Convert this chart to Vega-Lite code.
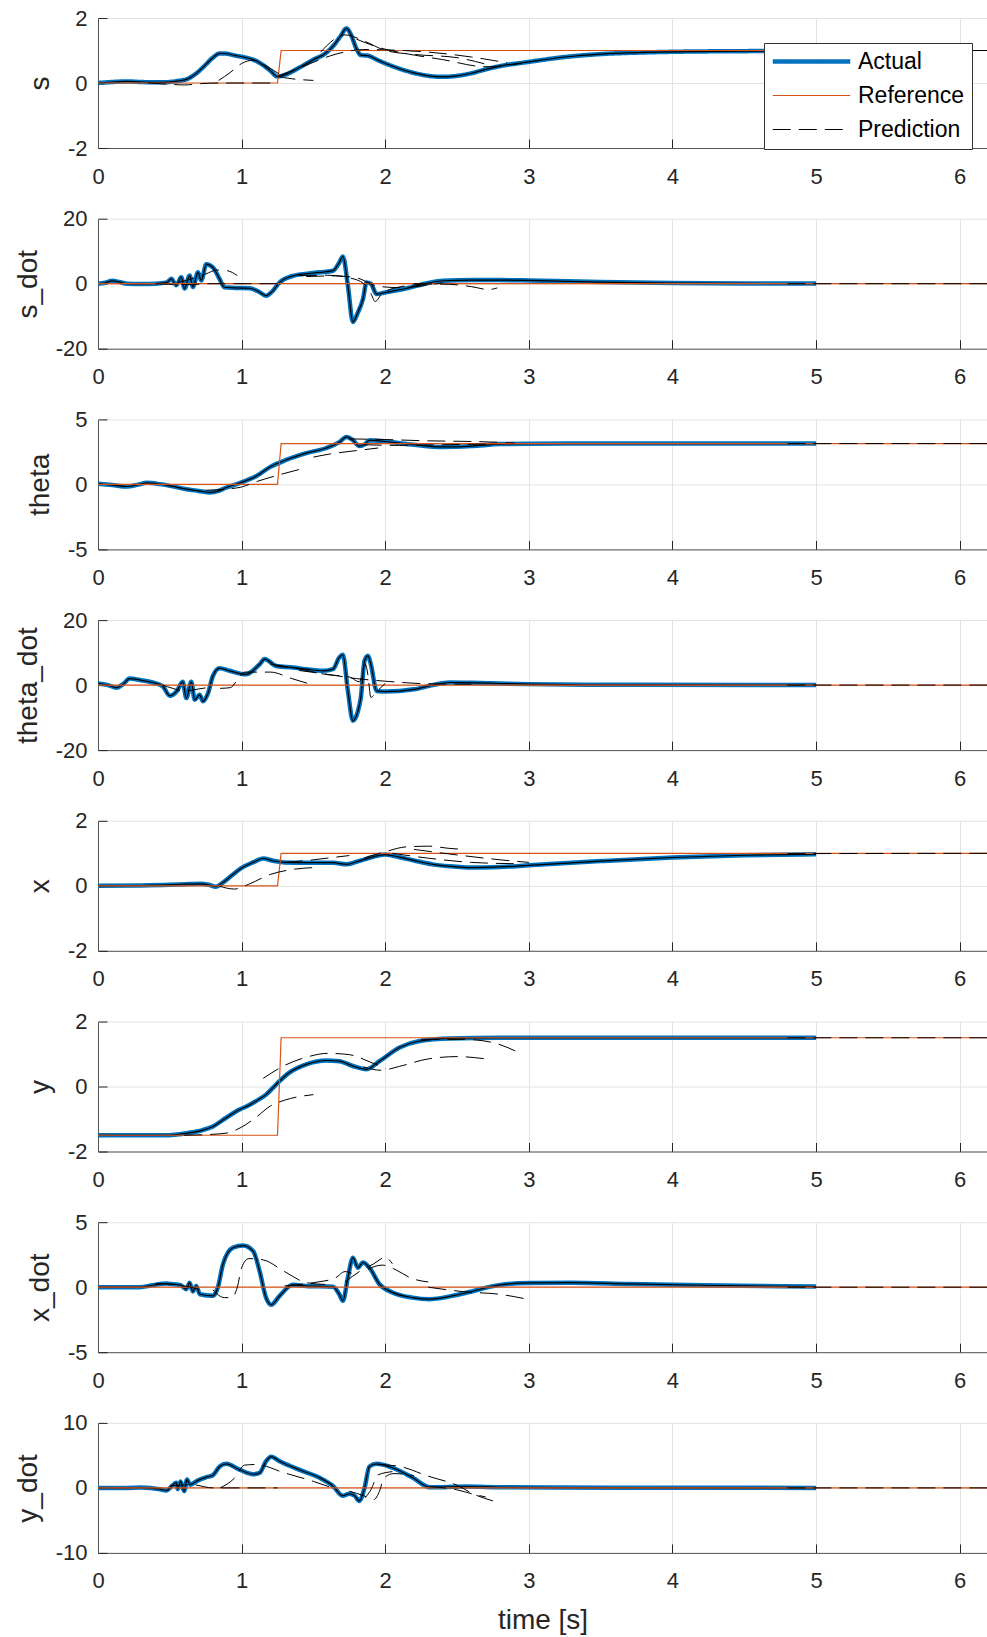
{
"$schema":"https://vega.github.io/schema/vega-lite/v6.json",
"background":"white",
"padding":{"left":14,"top":7,"right":0,"bottom":2},
"bounds":"flush",
"spacing":70.7,
"resolve":{"legend":{"color":"independent","strokeDash":"independent"},"scale":{"color":"independent","strokeDash":"independent"}},
"config":{
 "view":{"stroke":null},
 "font":"Liberation Sans",
 "locale":{"number":{"decimal":".","thousands":",","grouping":[3],"currency":["$",""],"minus":"-"}},
 "axis":{"labelFont":"Liberation Sans","labelFontSize":22,"labelColor":"#262626","titleFont":"Liberation Sans","titleFontSize":28,"titleFontWeight":"normal","titleColor":"#262626","domainColor":"#555555","domainWidth":1,"tickColor":"#262626","tickWidth":1,"tickSize":-9,"gridColor":"#e3e3e3","gridWidth":1,"labelFlush":false,"labelOverlap":false},
 "axisX":{"labelPadding":27,"titlePadding":15},
 "axisY":{"labelPadding":20,"titlePadding":13},
 "legend":{"symbolType":"stroke","symbolSize":6000,"labelFontSize":23,"labelFont":"Liberation Sans","labelColor":"#000000","fillColor":"#ffffff","strokeColor":"#333333","padding":7,"labelOffset":35,"symbolOffset":29,"rowPadding":10,"symbolStrokeWidth":1.2,"labelLimit":300}
},
"data":{"values":[
{"panel":"s","series":"Actual","seg":"a","t":0,"y":0},{"panel":"s","series":"Actual","seg":"a","t":0.1,"y":0.03},{"panel":"s","series":"Actual","seg":"a","t":0.2,"y":0.05},{"panel":"s","series":"Actual","seg":"a","t":0.3,"y":0.03},{"panel":"s","series":"Actual","seg":"a","t":0.45,"y":0.02},{"panel":"s","series":"Actual","seg":"a","t":0.55,"y":0.06},{"panel":"s","series":"Actual","seg":"a","t":0.62,"y":0.12},{"panel":"s","series":"Actual","seg":"a","t":0.68,"y":0.28},{"panel":"s","series":"Actual","seg":"a","t":0.74,"y":0.52},{"panel":"s","series":"Actual","seg":"a","t":0.8,"y":0.78},{"panel":"s","series":"Actual","seg":"a","t":0.85,"y":0.91},{"panel":"s","series":"Actual","seg":"a","t":0.9,"y":0.9},{"panel":"s","series":"Actual","seg":"a","t":0.95,"y":0.85},{"panel":"s","series":"Actual","seg":"a","t":1.02,"y":0.79},{"panel":"s","series":"Actual","seg":"a","t":1.08,"y":0.72},{"panel":"s","series":"Actual","seg":"a","t":1.14,"y":0.58},{"panel":"s","series":"Actual","seg":"a","t":1.2,"y":0.38},{"panel":"s","series":"Actual","seg":"a","t":1.25,"y":0.2},{"panel":"s","series":"Actual","seg":"a","t":1.3,"y":0.25},{"panel":"s","series":"Actual","seg":"a","t":1.4,"y":0.47},{"panel":"s","series":"Actual","seg":"a","t":1.5,"y":0.72},{"panel":"s","series":"Actual","seg":"a","t":1.58,"y":0.9},{"panel":"s","series":"Actual","seg":"a","t":1.64,"y":1.15},{"panel":"s","series":"Actual","seg":"a","t":1.69,"y":1.45},{"panel":"s","series":"Actual","seg":"a","t":1.73,"y":1.68},{"panel":"s","series":"Actual","seg":"a","t":1.76,"y":1.5},{"panel":"s","series":"Actual","seg":"a","t":1.8,"y":1.05},{"panel":"s","series":"Actual","seg":"a","t":1.83,"y":0.86},{"panel":"s","series":"Actual","seg":"a","t":1.88,"y":0.84},{"panel":"s","series":"Actual","seg":"a","t":1.95,"y":0.7},{"panel":"s","series":"Actual","seg":"a","t":2.02,"y":0.57},{"panel":"s","series":"Actual","seg":"a","t":2.1,"y":0.44},{"panel":"s","series":"Actual","seg":"a","t":2.2,"y":0.31},{"panel":"s","series":"Actual","seg":"a","t":2.3,"y":0.22},{"panel":"s","series":"Actual","seg":"a","t":2.4,"y":0.19},{"panel":"s","series":"Actual","seg":"a","t":2.5,"y":0.22},{"panel":"s","series":"Actual","seg":"a","t":2.6,"y":0.3},{"panel":"s","series":"Actual","seg":"a","t":2.7,"y":0.42},{"panel":"s","series":"Actual","seg":"a","t":2.8,"y":0.52},{"panel":"s","series":"Actual","seg":"a","t":3.0,"y":0.65},{"panel":"s","series":"Actual","seg":"a","t":3.25,"y":0.8},{"panel":"s","series":"Actual","seg":"a","t":3.5,"y":0.89},{"panel":"s","series":"Actual","seg":"a","t":3.8,"y":0.94},{"panel":"s","series":"Actual","seg":"a","t":4.0,"y":0.96},{"panel":"s","series":"Actual","seg":"a","t":4.5,"y":0.98},{"panel":"s","series":"Actual","seg":"a","t":5.0,"y":0.99},
{"panel":"s","series":"Reference","seg":"r","t":0,"y":0},{"panel":"s","series":"Reference","seg":"r","t":1.25,"y":0},{"panel":"s","series":"Reference","seg":"r","t":1.275,"y":1},{"panel":"s","series":"Reference","seg":"r","t":6.19,"y":1},
{"panel":"s","series":"Prediction","seg":"p1","t":0.35,"y":0},{"panel":"s","series":"Prediction","seg":"p1","t":0.5,"y":-0.04},{"panel":"s","series":"Prediction","seg":"p1","t":0.6,"y":-0.06},{"panel":"s","series":"Prediction","seg":"p1","t":0.72,"y":-0.02},{"panel":"s","series":"Prediction","seg":"p1","t":0.85,"y":0},{"panel":"s","series":"Prediction","seg":"p1","t":1.25,"y":0},
{"panel":"s","series":"Prediction","seg":"p2","t":0.84,"y":0.08},{"panel":"s","series":"Prediction","seg":"p2","t":0.92,"y":0.32},{"panel":"s","series":"Prediction","seg":"p2","t":1.0,"y":0.6},{"panel":"s","series":"Prediction","seg":"p2","t":1.08,"y":0.7},{"panel":"s","series":"Prediction","seg":"p2","t":1.18,"y":0.5},{"panel":"s","series":"Prediction","seg":"p2","t":1.28,"y":0.22},
{"panel":"s","series":"Prediction","seg":"p3","t":1.25,"y":0.2},{"panel":"s","series":"Prediction","seg":"p3","t":1.35,"y":0.13},{"panel":"s","series":"Prediction","seg":"p3","t":1.5,"y":0.08},
{"panel":"s","series":"Prediction","seg":"p4","t":1.25,"y":0.2},{"panel":"s","series":"Prediction","seg":"p4","t":1.45,"y":0.55},{"panel":"s","series":"Prediction","seg":"p4","t":1.65,"y":0.88},{"panel":"s","series":"Prediction","seg":"p4","t":1.85,"y":1.03},{"panel":"s","series":"Prediction","seg":"p4","t":2.0,"y":1.02},{"panel":"s","series":"Prediction","seg":"p4","t":2.3,"y":0.95},{"panel":"s","series":"Prediction","seg":"p4","t":2.6,"y":0.8},{"panel":"s","series":"Prediction","seg":"p4","t":2.85,"y":0.62},
{"panel":"s","series":"Prediction","seg":"p5","t":1.55,"y":0.95},{"panel":"s","series":"Prediction","seg":"p5","t":1.72,"y":1.48},{"panel":"s","series":"Prediction","seg":"p5","t":1.85,"y":1.3},{"panel":"s","series":"Prediction","seg":"p5","t":2.0,"y":1.0},{"panel":"s","series":"Prediction","seg":"p5","t":2.2,"y":0.88},{"panel":"s","series":"Prediction","seg":"p5","t":2.5,"y":0.78},{"panel":"s","series":"Prediction","seg":"p5","t":2.7,"y":0.58},
{"panel":"s","series":"Prediction","seg":"p6","t":1.8,"y":1.35},{"panel":"s","series":"Prediction","seg":"p6","t":1.95,"y":1.1},{"panel":"s","series":"Prediction","seg":"p6","t":2.15,"y":0.9},{"panel":"s","series":"Prediction","seg":"p6","t":2.4,"y":0.72},{"panel":"s","series":"Prediction","seg":"p6","t":2.7,"y":0.5},{"panel":"s","series":"Prediction","seg":"p6","t":2.95,"y":0.6},
{"panel":"s","series":"Prediction","seg":"tail","t":4.8,"y":0.99},{"panel":"s","series":"Prediction","seg":"tail","t":5.2,"y":1.0},{"panel":"s","series":"Prediction","seg":"tail","t":6.19,"y":1.0},

{"panel":"s_dot","series":"Actual","seg":"a","t":0,"y":0},{"panel":"s_dot","series":"Actual","seg":"a","t":0.05,"y":0.3},{"panel":"s_dot","series":"Actual","seg":"a","t":0.1,"y":0.9},{"panel":"s_dot","series":"Actual","seg":"a","t":0.15,"y":0.5},{"panel":"s_dot","series":"Actual","seg":"a","t":0.2,"y":0},{"panel":"s_dot","series":"Actual","seg":"a","t":0.3,"y":-0.1},{"panel":"s_dot","series":"Actual","seg":"a","t":0.4,"y":0},{"panel":"s_dot","series":"Actual","seg":"a","t":0.48,"y":0.4},{"panel":"s_dot","series":"Actual","seg":"a","t":0.51,"y":1.5},{"panel":"s_dot","series":"Actual","seg":"a","t":0.545,"y":-0.5},{"panel":"s_dot","series":"Actual","seg":"a","t":0.58,"y":2},{"panel":"s_dot","series":"Actual","seg":"a","t":0.603,"y":-1.5},{"panel":"s_dot","series":"Actual","seg":"a","t":0.638,"y":2.5},{"panel":"s_dot","series":"Actual","seg":"a","t":0.661,"y":-1},{"panel":"s_dot","series":"Actual","seg":"a","t":0.696,"y":3.5},{"panel":"s_dot","series":"Actual","seg":"a","t":0.719,"y":1},{"panel":"s_dot","series":"Actual","seg":"a","t":0.754,"y":6},{"panel":"s_dot","series":"Actual","seg":"a","t":0.8,"y":5},{"panel":"s_dot","series":"Actual","seg":"a","t":0.847,"y":1.4},{"panel":"s_dot","series":"Actual","seg":"a","t":0.88,"y":-1.1},{"panel":"s_dot","series":"Actual","seg":"a","t":0.95,"y":-1.3},{"panel":"s_dot","series":"Actual","seg":"a","t":1.056,"y":-1.4},{"panel":"s_dot","series":"Actual","seg":"a","t":1.12,"y":-2.5},{"panel":"s_dot","series":"Actual","seg":"a","t":1.17,"y":-3.7},{"panel":"s_dot","series":"Actual","seg":"a","t":1.21,"y":-2.5},{"panel":"s_dot","series":"Actual","seg":"a","t":1.265,"y":0.4},{"panel":"s_dot","series":"Actual","seg":"a","t":1.357,"y":2.4},{"panel":"s_dot","series":"Actual","seg":"a","t":1.5,"y":3.3},{"panel":"s_dot","series":"Actual","seg":"a","t":1.636,"y":4},{"panel":"s_dot","series":"Actual","seg":"a","t":1.68,"y":6.5},{"panel":"s_dot","series":"Actual","seg":"a","t":1.705,"y":8.4},{"panel":"s_dot","series":"Actual","seg":"a","t":1.74,"y":-0.6},{"panel":"s_dot","series":"Actual","seg":"a","t":1.775,"y":-11.8},{"panel":"s_dot","series":"Actual","seg":"a","t":1.81,"y":-8.8},{"panel":"s_dot","series":"Actual","seg":"a","t":1.845,"y":-4.7},{"panel":"s_dot","series":"Actual","seg":"a","t":1.87,"y":0.4},{"panel":"s_dot","series":"Actual","seg":"a","t":1.9,"y":0},{"panel":"s_dot","series":"Actual","seg":"a","t":1.94,"y":-3.2},{"panel":"s_dot","series":"Actual","seg":"a","t":2.0,"y":-2.7},{"panel":"s_dot","series":"Actual","seg":"a","t":2.15,"y":-1.4},{"panel":"s_dot","series":"Actual","seg":"a","t":2.3,"y":0.2},{"panel":"s_dot","series":"Actual","seg":"a","t":2.4,"y":0.9},{"panel":"s_dot","series":"Actual","seg":"a","t":2.6,"y":1.1},{"panel":"s_dot","series":"Actual","seg":"a","t":2.8,"y":1.1},{"panel":"s_dot","series":"Actual","seg":"a","t":3.0,"y":1.0},{"panel":"s_dot","series":"Actual","seg":"a","t":3.5,"y":0.5},{"panel":"s_dot","series":"Actual","seg":"a","t":4.0,"y":0.2},{"panel":"s_dot","series":"Actual","seg":"a","t":4.5,"y":0.08},{"panel":"s_dot","series":"Actual","seg":"a","t":5.0,"y":0.03},
{"panel":"s_dot","series":"Reference","seg":"r","t":0,"y":0},{"panel":"s_dot","series":"Reference","seg":"r","t":6.19,"y":0},
{"panel":"s_dot","series":"Prediction","seg":"q1","t":0.55,"y":0.3},{"panel":"s_dot","series":"Prediction","seg":"q1","t":0.65,"y":1.5},{"panel":"s_dot","series":"Prediction","seg":"q1","t":0.75,"y":3},{"panel":"s_dot","series":"Prediction","seg":"q1","t":0.83,"y":4.2},{"panel":"s_dot","series":"Prediction","seg":"q1","t":0.9,"y":4},{"panel":"s_dot","series":"Prediction","seg":"q1","t":0.97,"y":2.5},
{"panel":"s_dot","series":"Prediction","seg":"q2","t":0.4,"y":0},{"panel":"s_dot","series":"Prediction","seg":"q2","t":0.6,"y":-0.3},{"panel":"s_dot","series":"Prediction","seg":"q2","t":0.8,"y":0},{"panel":"s_dot","series":"Prediction","seg":"q2","t":1.25,"y":0},
{"panel":"s_dot","series":"Prediction","seg":"q3","t":1.4,"y":2.5},{"panel":"s_dot","series":"Prediction","seg":"q3","t":1.6,"y":2.6},{"panel":"s_dot","series":"Prediction","seg":"q3","t":1.75,"y":1.8},{"panel":"s_dot","series":"Prediction","seg":"q3","t":1.85,"y":0},{"panel":"s_dot","series":"Prediction","seg":"q3","t":1.9,"y":-3},{"panel":"s_dot","series":"Prediction","seg":"q3","t":1.93,"y":-5.5},{"panel":"s_dot","series":"Prediction","seg":"q3","t":1.97,"y":-3.5},{"panel":"s_dot","series":"Prediction","seg":"q3","t":2.05,"y":-1.5},{"panel":"s_dot","series":"Prediction","seg":"q3","t":2.3,"y":0},
{"panel":"s_dot","series":"Prediction","seg":"q4","t":1.45,"y":2.2},{"panel":"s_dot","series":"Prediction","seg":"q4","t":1.65,"y":2.4},{"panel":"s_dot","series":"Prediction","seg":"q4","t":1.8,"y":1.8},{"panel":"s_dot","series":"Prediction","seg":"q4","t":1.95,"y":-0.8},{"panel":"s_dot","series":"Prediction","seg":"q4","t":2.1,"y":-1.2},{"panel":"s_dot","series":"Prediction","seg":"q4","t":2.4,"y":0.3},
{"panel":"s_dot","series":"Prediction","seg":"q5","t":2.2,"y":0},{"panel":"s_dot","series":"Prediction","seg":"q5","t":2.45,"y":-0.2},{"panel":"s_dot","series":"Prediction","seg":"q5","t":2.6,"y":-0.9},{"panel":"s_dot","series":"Prediction","seg":"q5","t":2.72,"y":-1.8},{"panel":"s_dot","series":"Prediction","seg":"q5","t":2.78,"y":-1.3},
{"panel":"s_dot","series":"Prediction","seg":"tail","t":4.8,"y":0},{"panel":"s_dot","series":"Prediction","seg":"tail","t":6.19,"y":0},

{"panel":"theta","series":"Actual","seg":"a","t":0,"y":0.05},{"panel":"theta","series":"Actual","seg":"a","t":0.1,"y":-0.05},{"panel":"theta","series":"Actual","seg":"a","t":0.2,"y":-0.16},{"panel":"theta","series":"Actual","seg":"a","t":0.28,"y":-0.02},{"panel":"theta","series":"Actual","seg":"a","t":0.34,"y":0.12},{"panel":"theta","series":"Actual","seg":"a","t":0.43,"y":0.02},{"panel":"theta","series":"Actual","seg":"a","t":0.52,"y":-0.15},{"panel":"theta","series":"Actual","seg":"a","t":0.615,"y":-0.37},{"panel":"theta","series":"Actual","seg":"a","t":0.7,"y":-0.5},{"panel":"theta","series":"Actual","seg":"a","t":0.78,"y":-0.62},{"panel":"theta","series":"Actual","seg":"a","t":0.84,"y":-0.5},{"panel":"theta","series":"Actual","seg":"a","t":0.89,"y":-0.26},{"panel":"theta","series":"Actual","seg":"a","t":0.99,"y":0.12},{"panel":"theta","series":"Actual","seg":"a","t":1.1,"y":0.62},{"panel":"theta","series":"Actual","seg":"a","t":1.2,"y":1.35},{"panel":"theta","series":"Actual","seg":"a","t":1.31,"y":1.88},{"panel":"theta","series":"Actual","seg":"a","t":1.45,"y":2.4},{"panel":"theta","series":"Actual","seg":"a","t":1.59,"y":2.8},{"panel":"theta","series":"Actual","seg":"a","t":1.68,"y":3.25},{"panel":"theta","series":"Actual","seg":"a","t":1.73,"y":3.65},{"panel":"theta","series":"Actual","seg":"a","t":1.775,"y":3.4},{"panel":"theta","series":"Actual","seg":"a","t":1.82,"y":2.95},{"panel":"theta","series":"Actual","seg":"a","t":1.86,"y":3.1},{"panel":"theta","series":"Actual","seg":"a","t":1.89,"y":3.4},{"panel":"theta","series":"Actual","seg":"a","t":2.0,"y":3.3},{"panel":"theta","series":"Actual","seg":"a","t":2.2,"y":3.05},{"panel":"theta","series":"Actual","seg":"a","t":2.4,"y":2.88},{"panel":"theta","series":"Actual","seg":"a","t":2.6,"y":2.95},{"panel":"theta","series":"Actual","seg":"a","t":2.8,"y":3.1},{"panel":"theta","series":"Actual","seg":"a","t":3.0,"y":3.13},{"panel":"theta","series":"Actual","seg":"a","t":3.5,"y":3.14},{"panel":"theta","series":"Actual","seg":"a","t":5.0,"y":3.14},
{"panel":"theta","series":"Reference","seg":"r","t":0,"y":0},{"panel":"theta","series":"Reference","seg":"r","t":1.25,"y":0},{"panel":"theta","series":"Reference","seg":"r","t":1.275,"y":3.14},{"panel":"theta","series":"Reference","seg":"r","t":6.19,"y":3.14},
{"panel":"theta","series":"Prediction","seg":"r1","t":0.75,"y":-0.45},{"panel":"theta","series":"Prediction","seg":"r1","t":0.9,"y":-0.35},{"panel":"theta","series":"Prediction","seg":"r1","t":1.0,"y":-0.2},{"panel":"theta","series":"Prediction","seg":"r1","t":1.1,"y":0.2},{"panel":"theta","series":"Prediction","seg":"r1","t":1.25,"y":0.7},{"panel":"theta","series":"Prediction","seg":"r1","t":1.42,"y":1.2},
{"panel":"theta","series":"Prediction","seg":"r2","t":1.5,"y":2.1},{"panel":"theta","series":"Prediction","seg":"r2","t":1.62,"y":2.35},{"panel":"theta","series":"Prediction","seg":"r2","t":1.8,"y":2.6},{"panel":"theta","series":"Prediction","seg":"r2","t":1.95,"y":2.8},
{"panel":"theta","series":"Prediction","seg":"r3","t":1.75,"y":3.5},{"panel":"theta","series":"Prediction","seg":"r3","t":2.0,"y":3.45},{"panel":"theta","series":"Prediction","seg":"r3","t":2.3,"y":3.35},{"panel":"theta","series":"Prediction","seg":"r3","t":2.6,"y":3.3},{"panel":"theta","series":"Prediction","seg":"r3","t":2.9,"y":3.2},
{"panel":"theta","series":"Prediction","seg":"r4","t":1.85,"y":3.05},{"panel":"theta","series":"Prediction","seg":"r4","t":2.1,"y":3.0},{"panel":"theta","series":"Prediction","seg":"r4","t":2.4,"y":3.05},{"panel":"theta","series":"Prediction","seg":"r4","t":2.7,"y":3.1},
{"panel":"theta","series":"Prediction","seg":"tail","t":4.8,"y":3.14},{"panel":"theta","series":"Prediction","seg":"tail","t":6.19,"y":3.14},

{"panel":"theta_dot","series":"Actual","seg":"a","t":0,"y":0.5},{"panel":"theta_dot","series":"Actual","seg":"a","t":0.07,"y":0},{"panel":"theta_dot","series":"Actual","seg":"a","t":0.128,"y":-0.8},{"panel":"theta_dot","series":"Actual","seg":"a","t":0.18,"y":0.5},{"panel":"theta_dot","series":"Actual","seg":"a","t":0.22,"y":2.0},{"panel":"theta_dot","series":"Actual","seg":"a","t":0.3,"y":1.5},{"panel":"theta_dot","series":"Actual","seg":"a","t":0.38,"y":0.8},{"panel":"theta_dot","series":"Actual","seg":"a","t":0.45,"y":-0.3},{"panel":"theta_dot","series":"Actual","seg":"a","t":0.5,"y":-3.3},{"panel":"theta_dot","series":"Actual","seg":"a","t":0.55,"y":-1.8},{"panel":"theta_dot","series":"Actual","seg":"a","t":0.59,"y":1},{"panel":"theta_dot","series":"Actual","seg":"a","t":0.615,"y":-4},{"panel":"theta_dot","series":"Actual","seg":"a","t":0.65,"y":1},{"panel":"theta_dot","series":"Actual","seg":"a","t":0.673,"y":-4.5},{"panel":"theta_dot","series":"Actual","seg":"a","t":0.708,"y":-3},{"panel":"theta_dot","series":"Actual","seg":"a","t":0.73,"y":-5},{"panel":"theta_dot","series":"Actual","seg":"a","t":0.766,"y":-2.5},{"panel":"theta_dot","series":"Actual","seg":"a","t":0.8,"y":2.8},{"panel":"theta_dot","series":"Actual","seg":"a","t":0.847,"y":5.2},{"panel":"theta_dot","series":"Actual","seg":"a","t":0.916,"y":4.4},{"panel":"theta_dot","series":"Actual","seg":"a","t":1.03,"y":3.3},{"panel":"theta_dot","series":"Actual","seg":"a","t":1.125,"y":6.4},{"panel":"theta_dot","series":"Actual","seg":"a","t":1.16,"y":8},{"panel":"theta_dot","series":"Actual","seg":"a","t":1.24,"y":5.9},{"panel":"theta_dot","series":"Actual","seg":"a","t":1.357,"y":5.4},{"panel":"theta_dot","series":"Actual","seg":"a","t":1.45,"y":4.9},{"panel":"theta_dot","series":"Actual","seg":"a","t":1.566,"y":4.4},{"panel":"theta_dot","series":"Actual","seg":"a","t":1.636,"y":4.9},{"panel":"theta_dot","series":"Actual","seg":"a","t":1.68,"y":8.5},{"panel":"theta_dot","series":"Actual","seg":"a","t":1.705,"y":9.3},{"panel":"theta_dot","series":"Actual","seg":"a","t":1.74,"y":-1.8},{"panel":"theta_dot","series":"Actual","seg":"a","t":1.775,"y":-11},{"panel":"theta_dot","series":"Actual","seg":"a","t":1.81,"y":-8},{"panel":"theta_dot","series":"Actual","seg":"a","t":1.83,"y":-3.9},{"panel":"theta_dot","series":"Actual","seg":"a","t":1.856,"y":7.5},{"panel":"theta_dot","series":"Actual","seg":"a","t":1.88,"y":9},{"panel":"theta_dot","series":"Actual","seg":"a","t":1.9,"y":6.4},{"panel":"theta_dot","series":"Actual","seg":"a","t":1.94,"y":-1.8},{"panel":"theta_dot","series":"Actual","seg":"a","t":2.0,"y":-2.0},{"panel":"theta_dot","series":"Actual","seg":"a","t":2.2,"y":-1.3},{"panel":"theta_dot","series":"Actual","seg":"a","t":2.33,"y":0},{"panel":"theta_dot","series":"Actual","seg":"a","t":2.45,"y":0.8},{"panel":"theta_dot","series":"Actual","seg":"a","t":2.6,"y":0.7},{"panel":"theta_dot","series":"Actual","seg":"a","t":2.8,"y":0.5},{"panel":"theta_dot","series":"Actual","seg":"a","t":3.0,"y":0.3},{"panel":"theta_dot","series":"Actual","seg":"a","t":3.5,"y":0.1},{"panel":"theta_dot","series":"Actual","seg":"a","t":5.0,"y":0.02},
{"panel":"theta_dot","series":"Reference","seg":"r","t":0,"y":0},{"panel":"theta_dot","series":"Reference","seg":"r","t":6.19,"y":0},
{"panel":"theta_dot","series":"Prediction","seg":"u1","t":0.45,"y":0},{"panel":"theta_dot","series":"Prediction","seg":"u1","t":0.52,"y":-1},{"panel":"theta_dot","series":"Prediction","seg":"u1","t":0.6,"y":-1.8},{"panel":"theta_dot","series":"Prediction","seg":"u1","t":0.7,"y":-1.2},{"panel":"theta_dot","series":"Prediction","seg":"u1","t":0.8,"y":-0.5},
{"panel":"theta_dot","series":"Prediction","seg":"u2","t":0.85,"y":-1},{"panel":"theta_dot","series":"Prediction","seg":"u2","t":0.92,"y":-0.8},{"panel":"theta_dot","series":"Prediction","seg":"u2","t":0.97,"y":1.5},{"panel":"theta_dot","series":"Prediction","seg":"u2","t":1.02,"y":4},{"panel":"theta_dot","series":"Prediction","seg":"u2","t":1.2,"y":4},{"panel":"theta_dot","series":"Prediction","seg":"u2","t":1.35,"y":2},{"panel":"theta_dot","series":"Prediction","seg":"u2","t":1.5,"y":0},
{"panel":"theta_dot","series":"Prediction","seg":"u3","t":1.2,"y":6.5},{"panel":"theta_dot","series":"Prediction","seg":"u3","t":1.4,"y":5},{"panel":"theta_dot","series":"Prediction","seg":"u3","t":1.6,"y":3.2},{"panel":"theta_dot","series":"Prediction","seg":"u3","t":1.75,"y":2.5},{"panel":"theta_dot","series":"Prediction","seg":"u3","t":1.82,"y":1},{"panel":"theta_dot","series":"Prediction","seg":"u3","t":1.86,"y":6.5},{"panel":"theta_dot","series":"Prediction","seg":"u3","t":1.88,"y":3},{"panel":"theta_dot","series":"Prediction","seg":"u3","t":1.9,"y":-3.8},{"panel":"theta_dot","series":"Prediction","seg":"u3","t":1.94,"y":-2},{"panel":"theta_dot","series":"Prediction","seg":"u3","t":2.0,"y":0.5},
{"panel":"theta_dot","series":"Prediction","seg":"u4","t":1.4,"y":4.5},{"panel":"theta_dot","series":"Prediction","seg":"u4","t":1.6,"y":3.3},{"panel":"theta_dot","series":"Prediction","seg":"u4","t":1.8,"y":2},{"panel":"theta_dot","series":"Prediction","seg":"u4","t":2.0,"y":1.2},{"panel":"theta_dot","series":"Prediction","seg":"u4","t":2.3,"y":0.4},{"panel":"theta_dot","series":"Prediction","seg":"u4","t":2.6,"y":0.3},
{"panel":"theta_dot","series":"Prediction","seg":"tail","t":4.8,"y":0},{"panel":"theta_dot","series":"Prediction","seg":"tail","t":6.19,"y":0},

{"panel":"x","series":"Actual","seg":"a","t":0,"y":0},{"panel":"x","series":"Actual","seg":"a","t":0.3,"y":0.01},{"panel":"x","series":"Actual","seg":"a","t":0.5,"y":0.03},{"panel":"x","series":"Actual","seg":"a","t":0.615,"y":0.05},{"panel":"x","series":"Actual","seg":"a","t":0.71,"y":0.06},{"panel":"x","series":"Actual","seg":"a","t":0.77,"y":0.03},{"panel":"x","series":"Actual","seg":"a","t":0.82,"y":-0.03},{"panel":"x","series":"Actual","seg":"a","t":0.87,"y":0.1},{"panel":"x","series":"Actual","seg":"a","t":0.94,"y":0.35},{"panel":"x","series":"Actual","seg":"a","t":1.0,"y":0.55},{"panel":"x","series":"Actual","seg":"a","t":1.08,"y":0.72},{"panel":"x","series":"Actual","seg":"a","t":1.15,"y":0.84},{"panel":"x","series":"Actual","seg":"a","t":1.22,"y":0.77},{"panel":"x","series":"Actual","seg":"a","t":1.3,"y":0.72},{"panel":"x","series":"Actual","seg":"a","t":1.45,"y":0.71},{"panel":"x","series":"Actual","seg":"a","t":1.636,"y":0.71},{"panel":"x","series":"Actual","seg":"a","t":1.73,"y":0.66},{"panel":"x","series":"Actual","seg":"a","t":1.8,"y":0.74},{"panel":"x","series":"Actual","seg":"a","t":1.87,"y":0.83},{"panel":"x","series":"Actual","seg":"a","t":2.0,"y":0.96},{"panel":"x","series":"Actual","seg":"a","t":2.1,"y":0.88},{"panel":"x","series":"Actual","seg":"a","t":2.2,"y":0.78},{"panel":"x","series":"Actual","seg":"a","t":2.33,"y":0.66},{"panel":"x","series":"Actual","seg":"a","t":2.45,"y":0.6},{"panel":"x","series":"Actual","seg":"a","t":2.6,"y":0.56},{"panel":"x","series":"Actual","seg":"a","t":2.8,"y":0.58},{"panel":"x","series":"Actual","seg":"a","t":3.0,"y":0.63},{"panel":"x","series":"Actual","seg":"a","t":3.5,"y":0.76},{"panel":"x","series":"Actual","seg":"a","t":4.0,"y":0.87},{"panel":"x","series":"Actual","seg":"a","t":4.5,"y":0.94},{"panel":"x","series":"Actual","seg":"a","t":5.0,"y":0.97},
{"panel":"x","series":"Reference","seg":"r","t":0,"y":0},{"panel":"x","series":"Reference","seg":"r","t":1.25,"y":0},{"panel":"x","series":"Reference","seg":"r","t":1.275,"y":1},{"panel":"x","series":"Reference","seg":"r","t":6.19,"y":1},
{"panel":"x","series":"Prediction","seg":"w1","t":0.85,"y":-0.02},{"panel":"x","series":"Prediction","seg":"w1","t":0.95,"y":-0.1},{"panel":"x","series":"Prediction","seg":"w1","t":1.05,"y":0.05},{"panel":"x","series":"Prediction","seg":"w1","t":1.2,"y":0.35},{"panel":"x","series":"Prediction","seg":"w1","t":1.35,"y":0.5},{"panel":"x","series":"Prediction","seg":"w1","t":1.5,"y":0.56},
{"panel":"x","series":"Prediction","seg":"w2","t":1.3,"y":0.72},{"panel":"x","series":"Prediction","seg":"w2","t":1.5,"y":0.8},{"panel":"x","series":"Prediction","seg":"w2","t":1.65,"y":0.88},{"panel":"x","series":"Prediction","seg":"w2","t":1.75,"y":0.93},
{"panel":"x","series":"Prediction","seg":"w3","t":1.85,"y":0.85},{"panel":"x","series":"Prediction","seg":"w3","t":2.0,"y":1.05},{"panel":"x","series":"Prediction","seg":"w3","t":2.15,"y":1.2},{"panel":"x","series":"Prediction","seg":"w3","t":2.3,"y":1.22},{"panel":"x","series":"Prediction","seg":"w3","t":2.45,"y":1.15},{"panel":"x","series":"Prediction","seg":"w3","t":2.55,"y":1.12},
{"panel":"x","series":"Prediction","seg":"w4","t":2.05,"y":1.0},{"panel":"x","series":"Prediction","seg":"w4","t":2.3,"y":0.85},{"panel":"x","series":"Prediction","seg":"w4","t":2.6,"y":0.72},{"panel":"x","series":"Prediction","seg":"w4","t":2.9,"y":0.68},
{"panel":"x","series":"Prediction","seg":"w5","t":2.2,"y":1.12},{"panel":"x","series":"Prediction","seg":"w5","t":2.5,"y":0.95},{"panel":"x","series":"Prediction","seg":"w5","t":2.8,"y":0.8},{"panel":"x","series":"Prediction","seg":"w5","t":3.0,"y":0.72},
{"panel":"x","series":"Prediction","seg":"tail","t":4.8,"y":0.99},{"panel":"x","series":"Prediction","seg":"tail","t":6.19,"y":1},

{"panel":"y","series":"Actual","seg":"a","t":0,"y":-1.5},{"panel":"y","series":"Actual","seg":"a","t":0.3,"y":-1.5},{"panel":"y","series":"Actual","seg":"a","t":0.48,"y":-1.5},{"panel":"y","series":"Actual","seg":"a","t":0.58,"y":-1.46},{"panel":"y","series":"Actual","seg":"a","t":0.66,"y":-1.41},{"panel":"y","series":"Actual","seg":"a","t":0.73,"y":-1.34},{"panel":"y","series":"Actual","seg":"a","t":0.8,"y":-1.23},{"panel":"y","series":"Actual","seg":"a","t":0.89,"y":-0.97},{"panel":"y","series":"Actual","seg":"a","t":0.986,"y":-0.71},{"panel":"y","series":"Actual","seg":"a","t":1.05,"y":-0.58},{"panel":"y","series":"Actual","seg":"a","t":1.1,"y":-0.45},{"panel":"y","series":"Actual","seg":"a","t":1.17,"y":-0.25},{"panel":"y","series":"Actual","seg":"a","t":1.24,"y":0.06},{"panel":"y","series":"Actual","seg":"a","t":1.33,"y":0.42},{"panel":"y","series":"Actual","seg":"a","t":1.45,"y":0.68},{"panel":"y","series":"Actual","seg":"a","t":1.59,"y":0.8},{"panel":"y","series":"Actual","seg":"a","t":1.68,"y":0.78},{"panel":"y","series":"Actual","seg":"a","t":1.775,"y":0.63},{"panel":"y","series":"Actual","seg":"a","t":1.87,"y":0.53},{"panel":"y","series":"Actual","seg":"a","t":1.96,"y":0.78},{"panel":"y","series":"Actual","seg":"a","t":2.1,"y":1.2},{"panel":"y","series":"Actual","seg":"a","t":2.24,"y":1.4},{"panel":"y","series":"Actual","seg":"a","t":2.45,"y":1.48},{"panel":"y","series":"Actual","seg":"a","t":2.8,"y":1.5},{"panel":"y","series":"Actual","seg":"a","t":5.0,"y":1.5},
{"panel":"y","series":"Reference","seg":"r","t":0,"y":-1.5},{"panel":"y","series":"Reference","seg":"r","t":1.25,"y":-1.5},{"panel":"y","series":"Reference","seg":"r","t":1.275,"y":1.5},{"panel":"y","series":"Reference","seg":"r","t":6.19,"y":1.5},
{"panel":"y","series":"Prediction","seg":"y1","t":0.6,"y":-1.5},{"panel":"y","series":"Prediction","seg":"y1","t":0.8,"y":-1.47},{"panel":"y","series":"Prediction","seg":"y1","t":0.9,"y":-1.43},{"panel":"y","series":"Prediction","seg":"y1","t":1.0,"y":-1.25},{"panel":"y","series":"Prediction","seg":"y1","t":1.1,"y":-0.95},{"panel":"y","series":"Prediction","seg":"y1","t":1.2,"y":-0.6},{"panel":"y","series":"Prediction","seg":"y1","t":1.3,"y":-0.42},{"panel":"y","series":"Prediction","seg":"y1","t":1.5,"y":-0.25},
{"panel":"y","series":"Prediction","seg":"y2","t":1.15,"y":0.25},{"panel":"y","series":"Prediction","seg":"y2","t":1.3,"y":0.65},{"panel":"y","series":"Prediction","seg":"y2","t":1.45,"y":0.9},{"panel":"y","series":"Prediction","seg":"y2","t":1.6,"y":1.02},{"panel":"y","series":"Prediction","seg":"y2","t":1.75,"y":0.98},{"panel":"y","series":"Prediction","seg":"y2","t":1.88,"y":0.78},{"panel":"y","series":"Prediction","seg":"y2","t":2.0,"y":0.55},
{"panel":"y","series":"Prediction","seg":"y3","t":1.85,"y":0.6},{"panel":"y","series":"Prediction","seg":"y3","t":1.97,"y":0.5},{"panel":"y","series":"Prediction","seg":"y3","t":2.1,"y":0.62},{"panel":"y","series":"Prediction","seg":"y3","t":2.3,"y":0.85},{"panel":"y","series":"Prediction","seg":"y3","t":2.5,"y":0.92},{"panel":"y","series":"Prediction","seg":"y3","t":2.7,"y":0.85},
{"panel":"y","series":"Prediction","seg":"y4","t":2.25,"y":1.45},{"panel":"y","series":"Prediction","seg":"y4","t":2.55,"y":1.45},{"panel":"y","series":"Prediction","seg":"y4","t":2.75,"y":1.35},{"panel":"y","series":"Prediction","seg":"y4","t":2.95,"y":1.0},
{"panel":"y","series":"Prediction","seg":"tail","t":4.8,"y":1.5},{"panel":"y","series":"Prediction","seg":"tail","t":6.19,"y":1.5},

{"panel":"x_dot","series":"Actual","seg":"a","t":0,"y":0},{"panel":"x_dot","series":"Actual","seg":"a","t":0.2,"y":0},{"panel":"x_dot","series":"Actual","seg":"a","t":0.29,"y":0},{"panel":"x_dot","series":"Actual","seg":"a","t":0.38,"y":0.15},{"panel":"x_dot","series":"Actual","seg":"a","t":0.476,"y":0.28},{"panel":"x_dot","series":"Actual","seg":"a","t":0.53,"y":0.22},{"panel":"x_dot","series":"Actual","seg":"a","t":0.57,"y":0.18},{"panel":"x_dot","series":"Actual","seg":"a","t":0.615,"y":-0.15},{"panel":"x_dot","series":"Actual","seg":"a","t":0.638,"y":0.35},{"panel":"x_dot","series":"Actual","seg":"a","t":0.66,"y":-0.33},{"panel":"x_dot","series":"Actual","seg":"a","t":0.684,"y":0.1},{"panel":"x_dot","series":"Actual","seg":"a","t":0.71,"y":-0.54},{"panel":"x_dot","series":"Actual","seg":"a","t":0.8,"y":-0.66},{"panel":"x_dot","series":"Actual","seg":"a","t":0.835,"y":0},{"panel":"x_dot","series":"Actual","seg":"a","t":0.87,"y":1.76},{"panel":"x_dot","series":"Actual","seg":"a","t":0.94,"y":3.04},{"panel":"x_dot","series":"Actual","seg":"a","t":1.01,"y":3.2},{"panel":"x_dot","series":"Actual","seg":"a","t":1.08,"y":2.78},{"panel":"x_dot","series":"Actual","seg":"a","t":1.125,"y":1.25},{"panel":"x_dot","series":"Actual","seg":"a","t":1.17,"y":-0.8},{"panel":"x_dot","series":"Actual","seg":"a","t":1.206,"y":-1.35},{"panel":"x_dot","series":"Actual","seg":"a","t":1.265,"y":-0.66},{"panel":"x_dot","series":"Actual","seg":"a","t":1.357,"y":0.18},{"panel":"x_dot","series":"Actual","seg":"a","t":1.45,"y":0.1},{"panel":"x_dot","series":"Actual","seg":"a","t":1.636,"y":0.03},{"panel":"x_dot","series":"Actual","seg":"a","t":1.68,"y":-0.54},{"panel":"x_dot","series":"Actual","seg":"a","t":1.705,"y":-1.05},{"panel":"x_dot","series":"Actual","seg":"a","t":1.74,"y":0.74},{"panel":"x_dot","series":"Actual","seg":"a","t":1.775,"y":2.27},{"panel":"x_dot","series":"Actual","seg":"a","t":1.81,"y":1.5},{"panel":"x_dot","series":"Actual","seg":"a","t":1.845,"y":1.9},{"panel":"x_dot","series":"Actual","seg":"a","t":1.89,"y":1.5},{"panel":"x_dot","series":"Actual","seg":"a","t":1.96,"y":0.23},{"panel":"x_dot","series":"Actual","seg":"a","t":2.05,"y":-0.4},{"panel":"x_dot","series":"Actual","seg":"a","t":2.19,"y":-0.8},{"panel":"x_dot","series":"Actual","seg":"a","t":2.31,"y":-0.92},{"panel":"x_dot","series":"Actual","seg":"a","t":2.52,"y":-0.54},{"panel":"x_dot","series":"Actual","seg":"a","t":2.8,"y":0.18},{"panel":"x_dot","series":"Actual","seg":"a","t":3.0,"y":0.33},{"panel":"x_dot","series":"Actual","seg":"a","t":3.3,"y":0.35},{"panel":"x_dot","series":"Actual","seg":"a","t":3.7,"y":0.25},{"panel":"x_dot","series":"Actual","seg":"a","t":4.2,"y":0.15},{"panel":"x_dot","series":"Actual","seg":"a","t":5.0,"y":0.05},
{"panel":"x_dot","series":"Reference","seg":"r","t":0,"y":0},{"panel":"x_dot","series":"Reference","seg":"r","t":6.19,"y":0},
{"panel":"x_dot","series":"Prediction","seg":"x1","t":0.8,"y":-0.2},{"panel":"x_dot","series":"Prediction","seg":"x1","t":0.88,"y":-0.8},{"panel":"x_dot","series":"Prediction","seg":"x1","t":0.93,"y":-0.8},{"panel":"x_dot","series":"Prediction","seg":"x1","t":0.97,"y":0},{"panel":"x_dot","series":"Prediction","seg":"x1","t":1.0,"y":1.5},{"panel":"x_dot","series":"Prediction","seg":"x1","t":1.05,"y":2.2},{"panel":"x_dot","series":"Prediction","seg":"x1","t":1.15,"y":2.1},{"panel":"x_dot","series":"Prediction","seg":"x1","t":1.3,"y":1.2},{"panel":"x_dot","series":"Prediction","seg":"x1","t":1.45,"y":0.35},{"panel":"x_dot","series":"Prediction","seg":"x1","t":1.6,"y":0.2},
{"panel":"x_dot","series":"Prediction","seg":"x2","t":1.3,"y":0.1},{"panel":"x_dot","series":"Prediction","seg":"x2","t":1.5,"y":0.35},{"panel":"x_dot","series":"Prediction","seg":"x2","t":1.65,"y":0.7},{"panel":"x_dot","series":"Prediction","seg":"x2","t":1.72,"y":1.2},{"panel":"x_dot","series":"Prediction","seg":"x2","t":1.78,"y":1.0},
{"panel":"x_dot","series":"Prediction","seg":"x3","t":1.72,"y":0.4},{"panel":"x_dot","series":"Prediction","seg":"x3","t":1.82,"y":1.2},{"panel":"x_dot","series":"Prediction","seg":"x3","t":1.92,"y":1.8},{"panel":"x_dot","series":"Prediction","seg":"x3","t":2.0,"y":2.3},{"panel":"x_dot","series":"Prediction","seg":"x3","t":2.05,"y":1.8},
{"panel":"x_dot","series":"Prediction","seg":"x4","t":1.88,"y":1.4},{"panel":"x_dot","series":"Prediction","seg":"x4","t":1.98,"y":1.7},{"panel":"x_dot","series":"Prediction","seg":"x4","t":2.08,"y":1.3},{"panel":"x_dot","series":"Prediction","seg":"x4","t":2.18,"y":0.7},{"panel":"x_dot","series":"Prediction","seg":"x4","t":2.3,"y":0.4},
{"panel":"x_dot","series":"Prediction","seg":"x5","t":2.3,"y":0},{"panel":"x_dot","series":"Prediction","seg":"x5","t":2.55,"y":-0.35},{"panel":"x_dot","series":"Prediction","seg":"x5","t":2.8,"y":-0.55},{"panel":"x_dot","series":"Prediction","seg":"x5","t":3.0,"y":-0.95},
{"panel":"x_dot","series":"Prediction","seg":"x6","t":0.4,"y":0.3},{"panel":"x_dot","series":"Prediction","seg":"x6","t":0.6,"y":0.1},{"panel":"x_dot","series":"Prediction","seg":"x6","t":0.75,"y":-0.3},
{"panel":"x_dot","series":"Prediction","seg":"tail","t":4.8,"y":0},{"panel":"x_dot","series":"Prediction","seg":"tail","t":6.19,"y":0},

{"panel":"y_dot","series":"Actual","seg":"a","t":0,"y":0},{"panel":"y_dot","series":"Actual","seg":"a","t":0.2,"y":0},{"panel":"y_dot","series":"Actual","seg":"a","t":0.3,"y":0.05},{"panel":"y_dot","series":"Actual","seg":"a","t":0.43,"y":-0.2},{"panel":"y_dot","series":"Actual","seg":"a","t":0.476,"y":-0.4},{"panel":"y_dot","series":"Actual","seg":"a","t":0.52,"y":0.4},{"panel":"y_dot","series":"Actual","seg":"a","t":0.545,"y":0.8},{"panel":"y_dot","series":"Actual","seg":"a","t":0.555,"y":-0.2},{"panel":"y_dot","series":"Actual","seg":"a","t":0.575,"y":1.0},{"panel":"y_dot","series":"Actual","seg":"a","t":0.6,"y":-0.5},{"panel":"y_dot","series":"Actual","seg":"a","t":0.62,"y":1.3},{"panel":"y_dot","series":"Actual","seg":"a","t":0.64,"y":0.5},{"panel":"y_dot","series":"Actual","seg":"a","t":0.7,"y":1.2},{"panel":"y_dot","series":"Actual","seg":"a","t":0.754,"y":1.64},{"panel":"y_dot","series":"Actual","seg":"a","t":0.8,"y":1.95},{"panel":"y_dot","series":"Actual","seg":"a","t":0.847,"y":3.3},{"panel":"y_dot","series":"Actual","seg":"a","t":0.893,"y":3.7},{"panel":"y_dot","series":"Actual","seg":"a","t":0.986,"y":2.8},{"panel":"y_dot","series":"Actual","seg":"a","t":1.08,"y":2.1},{"panel":"y_dot","series":"Actual","seg":"a","t":1.125,"y":2.3},{"panel":"y_dot","series":"Actual","seg":"a","t":1.17,"y":4.1},{"panel":"y_dot","series":"Actual","seg":"a","t":1.206,"y":4.8},{"panel":"y_dot","series":"Actual","seg":"a","t":1.265,"y":4.1},{"panel":"y_dot","series":"Actual","seg":"a","t":1.4,"y":2.8},{"panel":"y_dot","series":"Actual","seg":"a","t":1.54,"y":1.6},{"panel":"y_dot","series":"Actual","seg":"a","t":1.636,"y":0.3},{"panel":"y_dot","series":"Actual","seg":"a","t":1.705,"y":-1.2},{"panel":"y_dot","series":"Actual","seg":"a","t":1.75,"y":-0.9},{"panel":"y_dot","series":"Actual","seg":"a","t":1.787,"y":-1.2},{"panel":"y_dot","series":"Actual","seg":"a","t":1.82,"y":-2.0},{"panel":"y_dot","series":"Actual","seg":"a","t":1.856,"y":0},{"panel":"y_dot","series":"Actual","seg":"a","t":1.89,"y":3.3},{"panel":"y_dot","series":"Actual","seg":"a","t":1.94,"y":3.7},{"panel":"y_dot","series":"Actual","seg":"a","t":2.05,"y":3.1},{"panel":"y_dot","series":"Actual","seg":"a","t":2.19,"y":1.6},{"panel":"y_dot","series":"Actual","seg":"a","t":2.31,"y":0.1},{"panel":"y_dot","series":"Actual","seg":"a","t":2.56,"y":0.2},{"panel":"y_dot","series":"Actual","seg":"a","t":2.8,"y":0.1},{"panel":"y_dot","series":"Actual","seg":"a","t":3.2,"y":0.05},{"panel":"y_dot","series":"Actual","seg":"a","t":5.0,"y":0},
{"panel":"y_dot","series":"Reference","seg":"r","t":0,"y":0},{"panel":"y_dot","series":"Reference","seg":"r","t":6.19,"y":0},
{"panel":"y_dot","series":"Prediction","seg":"v1","t":0.85,"y":0},{"panel":"y_dot","series":"Prediction","seg":"v1","t":0.95,"y":1.5},{"panel":"y_dot","series":"Prediction","seg":"v1","t":1.02,"y":3.5},{"panel":"y_dot","series":"Prediction","seg":"v1","t":1.1,"y":3.6},{"panel":"y_dot","series":"Prediction","seg":"v1","t":1.3,"y":2.3},{"panel":"y_dot","series":"Prediction","seg":"v1","t":1.5,"y":1.0},{"panel":"y_dot","series":"Prediction","seg":"v1","t":1.62,"y":0.1},
{"panel":"y_dot","series":"Prediction","seg":"v2","t":0.5,"y":0.3},{"panel":"y_dot","series":"Prediction","seg":"v2","t":0.65,"y":0.5},{"panel":"y_dot","series":"Prediction","seg":"v2","t":0.8,"y":0},{"panel":"y_dot","series":"Prediction","seg":"v2","t":1.25,"y":0},
{"panel":"y_dot","series":"Prediction","seg":"v3","t":1.75,"y":-0.5},{"panel":"y_dot","series":"Prediction","seg":"v3","t":1.85,"y":-1.2},{"panel":"y_dot","series":"Prediction","seg":"v3","t":1.92,"y":-1.8},{"panel":"y_dot","series":"Prediction","seg":"v3","t":1.96,"y":-0.5},{"panel":"y_dot","series":"Prediction","seg":"v3","t":1.99,"y":1.5},{"panel":"y_dot","series":"Prediction","seg":"v3","t":2.06,"y":2.2},{"panel":"y_dot","series":"Prediction","seg":"v3","t":2.2,"y":1.9},
{"panel":"y_dot","series":"Prediction","seg":"v4","t":1.95,"y":3.6},{"panel":"y_dot","series":"Prediction","seg":"v4","t":2.1,"y":3.3},{"panel":"y_dot","series":"Prediction","seg":"v4","t":2.3,"y":1.8},{"panel":"y_dot","series":"Prediction","seg":"v4","t":2.5,"y":0.4},{"panel":"y_dot","series":"Prediction","seg":"v4","t":2.62,"y":-1},{"panel":"y_dot","series":"Prediction","seg":"v4","t":2.75,"y":-2.0},
{"panel":"y_dot","series":"Prediction","seg":"v5","t":2.3,"y":0.2},{"panel":"y_dot","series":"Prediction","seg":"v5","t":2.5,"y":-0.3},{"panel":"y_dot","series":"Prediction","seg":"v5","t":2.62,"y":-1.0},{"panel":"y_dot","series":"Prediction","seg":"v5","t":2.7,"y":-1.4},
{"panel":"y_dot","series":"Prediction","seg":"v6","t":1.86,"y":-1.5},{"panel":"y_dot","series":"Prediction","seg":"v6","t":1.9,"y":-0.3},{"panel":"y_dot","series":"Prediction","seg":"v6","t":1.95,"y":2},{"panel":"y_dot","series":"Prediction","seg":"v6","t":2.05,"y":2.5},
{"panel":"y_dot","series":"Prediction","seg":"tail","t":4.8,"y":0},{"panel":"y_dot","series":"Prediction","seg":"tail","t":6.19,"y":0}
]},
"vconcat":[
{"width":889,"height":130,"transform":[{"filter":"datum.panel=='s'"}],
 "encoding":{"x":{"field":"t","type":"quantitative","scale":{"domain":[0,6.19],"nice":false,"zero":false},"axis":{"values":[0,1,2,3,4,5,6],"title":null}},
  "y":{"field":"y","type":"quantitative","scale":{"domain":[-2,2],"nice":false},"axis":{"values":[-2,0,2],"title":"s"}}},
 "layer":[
  {"transform":[{"filter":"datum.series=='Actual'"}],"mark":{"type":"line","strokeWidth":4.5,"interpolate":"monotone","clip":true},
   "encoding":{"color":{"field":"series","type":"nominal","scale":{"domain":["Actual","Reference","Prediction"],"range":["#0072BD","#D95319","#000000"]},"legend":{"title":null,"orient":"none","legendX":666,"legendY":25,"encode":{"symbols":{"update":{"strokeWidth":{"signal":"datum.value==='Actual'?4.5:1.2"}}}}}},
    "strokeDash":{"field":"series","type":"nominal","scale":{"domain":["Actual","Reference","Prediction"],"range":[[1,0],[1,0],[18,8]]},"legend":{"title":null,"orient":"none","legendX":666,"legendY":25}}}},
  {"transform":[{"filter":"datum.series=='Actual'"}],"mark":{"type":"line","strokeWidth":1.2,"color":"#000000","interpolate":"monotone","clip":true}},
  {"transform":[{"filter":"datum.series=='Reference'"}],"mark":{"type":"line","strokeWidth":1.2,"clip":true},
   "encoding":{"color":{"field":"series","type":"nominal","scale":{"domain":["Actual","Reference","Prediction"],"range":["#0072BD","#D95319","#000000"]},"legend":{"title":null,"orient":"none","legendX":666,"legendY":25}},
    "strokeDash":{"field":"series","type":"nominal","scale":{"domain":["Actual","Reference","Prediction"],"range":[[1,0],[1,0],[18,8]]},"legend":{"title":null,"orient":"none","legendX":666,"legendY":25}}}},
  {"transform":[{"filter":"datum.series=='Prediction'"}],"mark":{"type":"line","strokeWidth":1,"interpolate":"monotone","clip":true},
   "encoding":{"detail":{"field":"seg"},"color":{"field":"series","type":"nominal","scale":{"domain":["Actual","Reference","Prediction"],"range":["#0072BD","#D95319","#000000"]},"legend":{"title":null,"orient":"none","legendX":666,"legendY":25}},
    "strokeDash":{"field":"series","type":"nominal","scale":{"domain":["Actual","Reference","Prediction"],"range":[[1,0],[1,0],[18,8]]},"legend":{"title":null,"orient":"none","legendX":666,"legendY":25}}}}
 ]},
{"width":889,"height":130,"transform":[{"filter":"datum.panel=='s_dot'"}],
 "encoding":{"x":{"field":"t","type":"quantitative","scale":{"domain":[0,6.19],"nice":false,"zero":false},"axis":{"values":[0,1,2,3,4,5,6],"title":null}},
  "y":{"field":"y","type":"quantitative","scale":{"domain":[-20,20],"nice":false},"axis":{"values":[-20,0,20],"title":"s_dot"}}},
 "layer":[
  {"transform":[{"filter":"datum.series=='Actual'"}],"mark":{"type":"line","strokeWidth":4.5,"color":"#0072BD","interpolate":"monotone","clip":true}},
  {"transform":[{"filter":"datum.series=='Actual'"}],"mark":{"type":"line","strokeWidth":1.2,"color":"#000000","interpolate":"monotone","clip":true}},
  {"transform":[{"filter":"datum.series=='Reference'"}],"mark":{"type":"line","strokeWidth":1.2,"color":"#D95319","clip":true}},
  {"transform":[{"filter":"datum.series=='Prediction'"}],"mark":{"type":"line","strokeWidth":1,"color":"#000000","strokeDash":[18,8],"interpolate":"monotone","clip":true},"encoding":{"detail":{"field":"seg"}}}
 ]},
{"width":889,"height":130,"transform":[{"filter":"datum.panel=='theta'"}],
 "encoding":{"x":{"field":"t","type":"quantitative","scale":{"domain":[0,6.19],"nice":false,"zero":false},"axis":{"values":[0,1,2,3,4,5,6],"title":null}},
  "y":{"field":"y","type":"quantitative","scale":{"domain":[-5,5],"nice":false},"axis":{"values":[-5,0,5],"title":"theta"}}},
 "layer":[
  {"transform":[{"filter":"datum.series=='Actual'"}],"mark":{"type":"line","strokeWidth":4.5,"color":"#0072BD","interpolate":"monotone","clip":true}},
  {"transform":[{"filter":"datum.series=='Actual'"}],"mark":{"type":"line","strokeWidth":1.2,"color":"#000000","interpolate":"monotone","clip":true}},
  {"transform":[{"filter":"datum.series=='Reference'"}],"mark":{"type":"line","strokeWidth":1.2,"color":"#D95319","clip":true}},
  {"transform":[{"filter":"datum.series=='Prediction'"}],"mark":{"type":"line","strokeWidth":1,"color":"#000000","strokeDash":[18,8],"interpolate":"monotone","clip":true},"encoding":{"detail":{"field":"seg"}}}
 ]},
{"width":889,"height":130,"transform":[{"filter":"datum.panel=='theta_dot'"}],
 "encoding":{"x":{"field":"t","type":"quantitative","scale":{"domain":[0,6.19],"nice":false,"zero":false},"axis":{"values":[0,1,2,3,4,5,6],"title":null}},
  "y":{"field":"y","type":"quantitative","scale":{"domain":[-20,20],"nice":false},"axis":{"values":[-20,0,20],"title":"theta_dot"}}},
 "layer":[
  {"transform":[{"filter":"datum.series=='Actual'"}],"mark":{"type":"line","strokeWidth":4.5,"color":"#0072BD","interpolate":"monotone","clip":true}},
  {"transform":[{"filter":"datum.series=='Actual'"}],"mark":{"type":"line","strokeWidth":1.2,"color":"#000000","interpolate":"monotone","clip":true}},
  {"transform":[{"filter":"datum.series=='Reference'"}],"mark":{"type":"line","strokeWidth":1.2,"color":"#D95319","clip":true}},
  {"transform":[{"filter":"datum.series=='Prediction'"}],"mark":{"type":"line","strokeWidth":1,"color":"#000000","strokeDash":[18,8],"interpolate":"monotone","clip":true},"encoding":{"detail":{"field":"seg"}}}
 ]},
{"width":889,"height":130,"transform":[{"filter":"datum.panel=='x'"}],
 "encoding":{"x":{"field":"t","type":"quantitative","scale":{"domain":[0,6.19],"nice":false,"zero":false},"axis":{"values":[0,1,2,3,4,5,6],"title":null}},
  "y":{"field":"y","type":"quantitative","scale":{"domain":[-2,2],"nice":false},"axis":{"values":[-2,0,2],"title":"x"}}},
 "layer":[
  {"transform":[{"filter":"datum.series=='Actual'"}],"mark":{"type":"line","strokeWidth":4.5,"color":"#0072BD","interpolate":"monotone","clip":true}},
  {"transform":[{"filter":"datum.series=='Actual'"}],"mark":{"type":"line","strokeWidth":1.2,"color":"#000000","interpolate":"monotone","clip":true}},
  {"transform":[{"filter":"datum.series=='Reference'"}],"mark":{"type":"line","strokeWidth":1.2,"color":"#D95319","clip":true}},
  {"transform":[{"filter":"datum.series=='Prediction'"}],"mark":{"type":"line","strokeWidth":1,"color":"#000000","strokeDash":[18,8],"interpolate":"monotone","clip":true},"encoding":{"detail":{"field":"seg"}}}
 ]},
{"width":889,"height":130,"transform":[{"filter":"datum.panel=='y'"}],
 "encoding":{"x":{"field":"t","type":"quantitative","scale":{"domain":[0,6.19],"nice":false,"zero":false},"axis":{"values":[0,1,2,3,4,5,6],"title":null}},
  "y":{"field":"y","type":"quantitative","scale":{"domain":[-2,2],"nice":false},"axis":{"values":[-2,0,2],"title":"y"}}},
 "layer":[
  {"transform":[{"filter":"datum.series=='Actual'"}],"mark":{"type":"line","strokeWidth":4.5,"color":"#0072BD","interpolate":"monotone","clip":true}},
  {"transform":[{"filter":"datum.series=='Actual'"}],"mark":{"type":"line","strokeWidth":1.2,"color":"#000000","interpolate":"monotone","clip":true}},
  {"transform":[{"filter":"datum.series=='Reference'"}],"mark":{"type":"line","strokeWidth":1.2,"color":"#D95319","clip":true}},
  {"transform":[{"filter":"datum.series=='Prediction'"}],"mark":{"type":"line","strokeWidth":1,"color":"#000000","strokeDash":[18,8],"interpolate":"monotone","clip":true},"encoding":{"detail":{"field":"seg"}}}
 ]},
{"width":889,"height":130,"transform":[{"filter":"datum.panel=='x_dot'"}],
 "encoding":{"x":{"field":"t","type":"quantitative","scale":{"domain":[0,6.19],"nice":false,"zero":false},"axis":{"values":[0,1,2,3,4,5,6],"title":null}},
  "y":{"field":"y","type":"quantitative","scale":{"domain":[-5,5],"nice":false},"axis":{"values":[-5,0,5],"title":"x_dot"}}},
 "layer":[
  {"transform":[{"filter":"datum.series=='Actual'"}],"mark":{"type":"line","strokeWidth":4.5,"color":"#0072BD","interpolate":"monotone","clip":true}},
  {"transform":[{"filter":"datum.series=='Actual'"}],"mark":{"type":"line","strokeWidth":1.2,"color":"#000000","interpolate":"monotone","clip":true}},
  {"transform":[{"filter":"datum.series=='Reference'"}],"mark":{"type":"line","strokeWidth":1.2,"color":"#D95319","clip":true}},
  {"transform":[{"filter":"datum.series=='Prediction'"}],"mark":{"type":"line","strokeWidth":1,"color":"#000000","strokeDash":[18,8],"interpolate":"monotone","clip":true},"encoding":{"detail":{"field":"seg"}}}
 ]},
{"width":889,"height":130,"transform":[{"filter":"datum.panel=='y_dot'"}],
 "encoding":{"x":{"field":"t","type":"quantitative","scale":{"domain":[0,6.19],"nice":false,"zero":false},"axis":{"values":[0,1,2,3,4,5,6],"title":"time [s]"}},
  "y":{"field":"y","type":"quantitative","scale":{"domain":[-10,10],"nice":false},"axis":{"values":[-10,0,10],"title":"y_dot"}}},
 "layer":[
  {"transform":[{"filter":"datum.series=='Actual'"}],"mark":{"type":"line","strokeWidth":4.5,"color":"#0072BD","interpolate":"monotone","clip":true}},
  {"transform":[{"filter":"datum.series=='Actual'"}],"mark":{"type":"line","strokeWidth":1.2,"color":"#000000","interpolate":"monotone","clip":true}},
  {"transform":[{"filter":"datum.series=='Reference'"}],"mark":{"type":"line","strokeWidth":1.2,"color":"#D95319","clip":true}},
  {"transform":[{"filter":"datum.series=='Prediction'"}],"mark":{"type":"line","strokeWidth":1,"color":"#000000","strokeDash":[18,8],"interpolate":"monotone","clip":true},"encoding":{"detail":{"field":"seg"}}}
 ]}
]
}
